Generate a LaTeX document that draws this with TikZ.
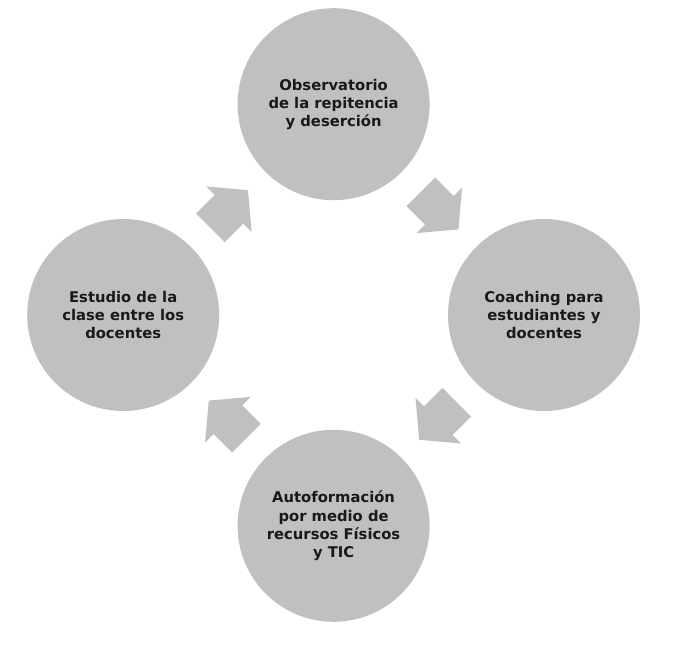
\documentclass[tikz,border=0pt]{standalone}
\usepackage{fontspec}
\setmainfont{DejaVu Sans}
\usepackage{tikz}
\usetikzlibrary{shapes.arrows}
\definecolor{cyclegray}{RGB}{192,192,192}
\tikzset{
  cycle-stage/.style={circle, fill=cyclegray, draw=none, minimum size=4.8cm, inner sep=0pt,
    align=center, font=\fontsize{10.5}{12.9}\selectfont\bfseries, text=black!90},
  cycle-arrow/.style={single arrow, fill=cyclegray, draw=none, inner xsep=0pt, inner ysep=0.5cm,
    minimum height=1.33cm, minimum width=1.6cm, single arrow head extend=0.3cm,
    single arrow tip angle=100}
}

\begin{document}
\begin{tikzpicture}
  \useasboundingbox (-8.34,7.875) rectangle (8.96,-8.65);
  \node[cycle-stage] (observatorio) at (0,5.27) {Observatorio\\de la repitencia\\y deserción};
  \node[cycle-stage] (coaching) at (5.26,0) {Coaching para\\estudiantes y\\docentes};
  \node[cycle-stage] (autoformacion) at (0,-5.27) {Autoformación\\por medio de\\recursos Físicos\\y TIC};
  \node[cycle-stage] (estudio) at (-5.26,0) {Estudio de la\\clase entre los\\docentes};
  \node[cycle-arrow, rotate=-45] (arrow-a) at (2.50,2.76) {};
  \node[cycle-arrow, rotate=-135] (arrow-b) at (2.76,-2.50) {};
  \node[cycle-arrow, rotate=135] (arrow-c) at (-2.50,-2.76) {};
  \node[cycle-arrow, rotate=45] (arrow-d) at (-2.76,2.50) {};
\end{tikzpicture}
\end{document}
